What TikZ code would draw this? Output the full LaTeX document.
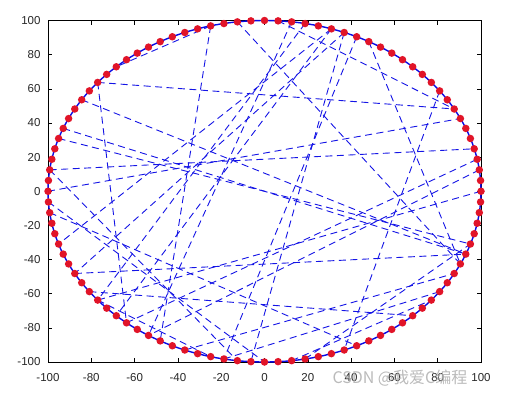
\documentclass[tikz,border=0pt]{standalone}
\usepackage{fontspec}
\setmainfont{Liberation Sans}
\newfontfamily\cjk{Noto Sans CJK SC}
\begin{document}
\begin{tikzpicture}[x=1pt,y=-1pt,
  dl/.style={draw={rgb,255:red,20;green,20;blue,230}, line width=0.9pt, dash pattern=on 7pt off 4.5pt},
  circ/.style={draw={rgb,255:red,10;green,10;blue,230}, line width=1.4pt},
  dot/.style={circle, fill={rgb,255:red,225;green,20;blue,40}, inner sep=0pt, minimum size=7.5pt},
  tick/.style={line width=0.5pt, black},
  lab/.style={font=\fontsize{11.5}{12}\selectfont, text={rgb,255:red,40;green,40;blue,40}}]
\useasboundingbox (0,0) rectangle (506,392);
\fill[white] (0,0) rectangle (506,392);
% points on the circle
\foreach \k in {0,...,99}{
  \coordinate (p\k) at ({264.5+216.5*cos(3.6*\k)},{191.25-170.75*sin(3.6*\k)});
}
\coordinate (c0) at (264.5,191.25);
% axes box
\draw[line width=0.6pt] (48,20.5) rectangle (481,362);
\foreach \v in {-100,-80,...,100}{
  \draw[tick] ({264.5+2.165*\v},362) -- ++(0,-4);
  \draw[tick] ({264.5+2.165*\v},20.5) -- ++(0,4);
  \node[lab] at ({264.5+2.165*\v},378) {\v};
  \draw[tick] (48,{191.25-1.7075*\v}) -- ++(4,0);
  \draw[tick] (481,{191.25-1.7075*\v}) -- ++(-4,0);
  \node[lab, anchor=east] at (44,{191.25-1.7075*\v}) {\v};
}
% dashed links
\foreach \a/\b in {39/8, 29/67, 39/64, 48/4, 18/72, 58/94, 60/87, 27/93, 22/61, 17/93,
  10/81, 24/8, 52/82, 20/55, 0/61, 41/94, 44/94, 45/95, 51/75, 29/37, 2/66, 19/74,
  19/58, 20/63, 72/90, 69/92, 64/3, 23/66, 50/7, 78/95, 48/73, 61/71, 77/89}{
  \draw[dl] (p\a) -- (p\b);
}
% circle
\draw[circ] (c0) ellipse [x radius=216.5, y radius=170.75];
\foreach \k in {0,...,99}{
  \node[dot] (d\k) at (p\k) {};
}
\node[font=\cjk\fontsize{16}{16}\selectfont, text={rgb,255:red,175;green,175;blue,175}, anchor=west, opacity=0.85] (wm) at (329,378) {CSDN @我爱C编程};
\end{tikzpicture}
\end{document}
